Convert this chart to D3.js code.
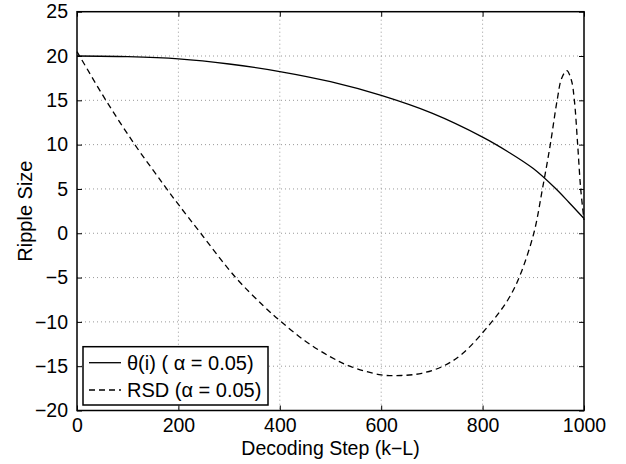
<!DOCTYPE html>
<html>
<head>
<meta charset="utf-8">
<script src="https://cdn.jsdelivr.net/npm/d3@7"></script>
<style>
  body { margin: 0; background: #fff; }
  svg { display: block; font-family: "Liberation Sans", Arial, Helvetica, sans-serif; }
</style>
</head>
<body>
<svg id="chart" width="626" height="464"></svg>
<script>
// Data
const thetaSteps = [0, 100, 200, 300, 400, 500, 600, 700, 800, 850, 900, 943, 970, 1000];
const thetaValues = [20.0, 19.93, 19.68, 19.1, 18.25, 17.1, 15.55, 13.55, 10.85, 9.2, 7.3, 5.1, 3.5, 1.66];

const rsdSteps = [0, 57, 114, 158, 177, 200, 244, 313, 367, 404, 450, 500, 538, 600, 640, 680, 722, 760, 818, 850, 872, 901, 918, 933.5, 947, 956, 966, 975, 981, 987.5, 993.5, 1000];
const rsdValues = [20.5, 15, 10, 6.5, 5, 3.25, 0, -5, -8.15, -10.05, -12.15, -13.95, -15, -15.98, -16.05, -15.8, -15.0, -13.6, -10, -7.5, -5, 0, 5, 10, 15, 17.5, 18.35, 17.3, 15, 10, 5, 1.5];

const xTicks = [0, 200, 400, 600, 800, 1000];
const yTicks = [-20, -15, -10, -5, 0, 5, 10, 15, 20, 25];
const legendLabels = ["θ(i) ( α = 0.05)", "RSD (α = 0.05)"];
const xLabel = "Decoding Step (k−L)";
const yLabel = "Ripple Size";

(function () {
const svg = d3.select("#chart");
const pL = 77, pR = 584, pT = 11.7, pB = 410.5;
const x = d3.scaleLinear().domain([0, 1000]).range([pL, pR]);
const y = d3.scaleLinear().domain([-20, 25]).range([pB, pT]);
const fsTick = 19.5, fs = 19.5;

// Grid
const grid = svg.append("g");
grid.selectAll(".gx").data(xTicks.slice(1, -1)).enter().append("line")
  .attr("x1", d => x(d)).attr("x2", d => x(d)).attr("y1", pT).attr("y2", pB)
  .attr("stroke", "#999").attr("stroke-width", 1).attr("stroke-dasharray", "1,3");
grid.selectAll(".gy").data(yTicks.slice(1, -1)).enter().append("line")
  .attr("y1", d => y(d)).attr("y2", d => y(d)).attr("x1", pL).attr("x2", pR)
  .attr("stroke", "#999").attr("stroke-width", 1).attr("stroke-dasharray", "1,3");

// Axes with inward ticks
const tl = 5;
const fmt = d => d < 0 ? "\u2212" + Math.abs(d) : String(d);
const axB = svg.append("g").attr("transform", `translate(0,${pB})`)
  .call(d3.axisBottom(x).tickValues(xTicks).tickSizeInner(-tl).tickSizeOuter(0).tickPadding(8).tickFormat(fmt));
const axT = svg.append("g").attr("transform", `translate(0,${pT})`)
  .call(d3.axisTop(x).tickValues(xTicks).tickSizeInner(-tl).tickSizeOuter(0).tickFormat(""));
const axL = svg.append("g").attr("transform", `translate(${pL},0)`)
  .call(d3.axisLeft(y).tickValues(yTicks).tickSizeInner(-tl).tickSizeOuter(0).tickPadding(9).tickFormat(fmt));
const axR = svg.append("g").attr("transform", `translate(${pR},0)`)
  .call(d3.axisRight(y).tickValues(yTicks).tickSizeInner(-tl).tickSizeOuter(0).tickFormat(""));
[axB, axT, axL, axR].forEach(a => {
  a.select(".domain").remove();
  a.selectAll(".tick line").attr("stroke", "#000").attr("stroke-width", 1);
  a.selectAll("text").attr("font-size", fsTick).attr("fill", "#000")
    .attr("font-family", "'Liberation Sans', Arial, Helvetica, sans-serif");
});

// Lines
const theta = thetaSteps.map((s, i) => [s, thetaValues[i]]);
const rsd = rsdSteps.map((s, i) => [s, rsdValues[i]]);
const line = d3.line().x(d => x(d[0])).y(d => y(d[1])).curve(d3.curveCatmullRom.alpha(0.5));

svg.append("path").attr("d", line(theta)).attr("fill", "none")
  .attr("stroke", "#000").attr("stroke-width", 1.3);
svg.append("path").attr("d", line(rsd)).attr("fill", "none")
  .attr("stroke", "#000").attr("stroke-width", 1.3).attr("stroke-dasharray", "6,4");

// Frame
svg.append("rect").attr("x", pL).attr("y", pT).attr("width", pR - pL).attr("height", pB - pT)
  .attr("fill", "none").attr("stroke", "#000").attr("stroke-width", 1.5);

// Labels
svg.append("text").attr("x", (pL + pR) / 2).attr("y", 455).attr("text-anchor", "middle")
  .attr("font-size", fs).text(xLabel);
svg.append("text").attr("transform", `translate(32,${(pT + pB) / 2}) rotate(-90)`)
  .attr("text-anchor", "middle").attr("font-size", 20).text(yLabel);

// Legend
const lg = svg.append("g");
lg.append("rect").attr("x", 83).attr("y", 346.7).attr("width", 185).attr("height", 58.3)
  .attr("fill", "#fff").attr("stroke", "#000").attr("stroke-width", 1.5);
const styles = [null, "6,4"];
legendLabels.forEach((lab, i) => {
  const ly = 362.7 + i * 27.3;
  lg.append("line").attr("x1", 89).attr("x2", 121).attr("y1", ly).attr("y2", ly)
    .attr("stroke", "#000").attr("stroke-width", 1.3)
    .attr("stroke-dasharray", styles[i]);
  lg.append("text").attr("x", 127).attr("y", ly + 7).attr("font-size", 20).text(lab);
});
})();
</script>
</body>
</html>
